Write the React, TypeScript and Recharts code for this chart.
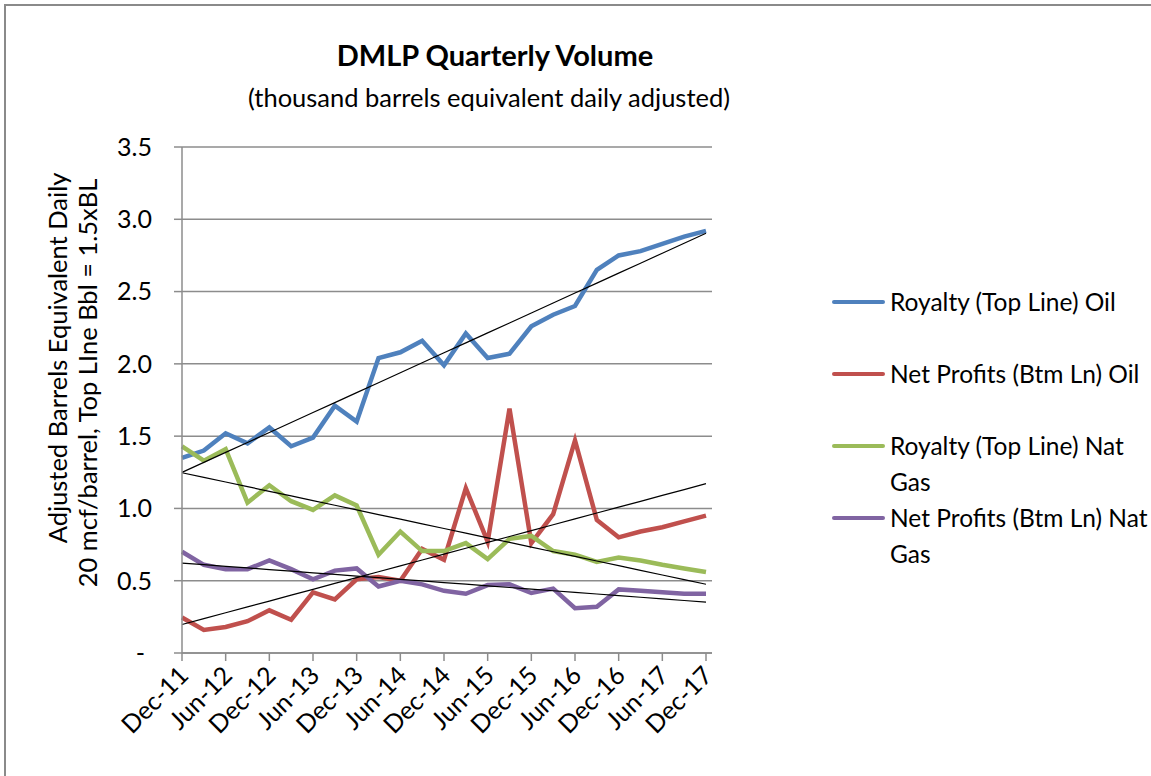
// DMLP Quarterly Volume - line chart with linear trendlines
import { LineChart, Line, XAxis, YAxis, CartesianGrid, Legend } from "recharts";

const QUARTERS = [
  "Dec-11", "Mar-12", "Jun-12", "Sep-12", "Dec-12", "Mar-13", "Jun-13", "Sep-13",
  "Dec-13", "Mar-14", "Jun-14", "Sep-14", "Dec-14", "Mar-15", "Jun-15", "Sep-15",
  "Dec-15", "Mar-16", "Jun-16", "Sep-16", "Dec-16", "Mar-17", "Jun-17", "Sep-17",
  "Dec-17",
];

const ROYALTY_OIL = [
  1.35, 1.4, 1.52, 1.45, 1.56, 1.43, 1.49, 1.71, 1.6, 2.04, 2.08, 2.16, 1.99,
  2.21, 2.04, 2.07, 2.26, 2.34, 2.4, 2.65, 2.75, 2.78, 2.83, 2.88, 2.92,
];
const NET_PROFITS_OIL = [
  0.245, 0.16, 0.18, 0.22, 0.295, 0.23, 0.42, 0.37, 0.51, 0.525, 0.5, 0.72,
  0.645, 1.14, 0.77, 1.69, 0.76, 0.96, 1.47, 0.92, 0.8, 0.84, 0.87, 0.91, 0.95,
];
const ROYALTY_GAS = [
  1.43, 1.33, 1.41, 1.04, 1.16, 1.05, 0.99, 1.09, 1.02, 0.68, 0.84, 0.705, 0.705,
  0.76, 0.65, 0.79, 0.81, 0.705, 0.68, 0.63, 0.66, 0.64, 0.61, 0.585, 0.56,
];
const NET_PROFITS_GAS = [
  0.7, 0.61, 0.58, 0.58, 0.64, 0.58, 0.51, 0.57, 0.585, 0.46, 0.5, 0.475, 0.43,
  0.41, 0.47, 0.475, 0.415, 0.445, 0.31, 0.32, 0.44, 0.43, 0.42, 0.41, 0.41,
];

const SERIES = [
  { key: "royaltyOil", name: "Royalty (Top Line) Oil", color: "#4F81BD", values: ROYALTY_OIL },
  { key: "netOil", name: "Net Profits (Btm Ln) Oil", color: "#C0504D", values: NET_PROFITS_OIL },
  { key: "royaltyGas", name: "Royalty (Top Line) Nat Gas", color: "#9BBB59", values: ROYALTY_GAS },
  { key: "netGas", name: "Net Profits (Btm Ln) Nat Gas", color: "#8064A2", values: NET_PROFITS_GAS },
];

const Y_TICKS = [0, 0.5, 1, 1.5, 2, 2.5, 3, 3.5];

const GRID = "#8c8c8c";

// least squares fit, same as an Excel linear trendline
const linearTrend = (vals: number[]) => {
  const n = vals.length;
  const mx = (n - 1) / 2;
  const my = vals.reduce((a, b) => a + b, 0) / n;
  let sxy = 0;
  let sxx = 0;
  vals.forEach((v, i) => {
    sxy += (i - mx) * (v - my);
    sxx += (i - mx) * (i - mx);
  });
  const slope = sxy / sxx;
  return vals.map((_, i) => my + slope * (i - mx));
};

const chartData = QUARTERS.map((q, i) => {
  const row: any = { quarter: q };
  SERIES.forEach((s) => {
    row[s.key] = s.values[i];
  });
  return row;
});
SERIES.forEach((s) => {
  const t = linearTrend(s.values);
  chartData.forEach((row: any, i: number) => {
    row[s.key + "Trend"] = t[i];
  });
});

const XTick = ({ x, y, payload }: any) => (
  <g transform={`translate(${x + 8},${y + 14})`}>
    <text transform="rotate(-45)" textAnchor="end" fontSize={25} fill="#000">
      {payload.value}
    </text>
  </g>
);

const YTick = ({ x, y, payload }: any) => (
  <text
    x={x}
    y={y}
    dx={payload.value === 0 ? -7 : 0}
    dy="0.355em"
    textAnchor="end"
    fontSize={25}
    fill="#000"
  >
    {payload.value === 0 ? "-" : payload.value.toFixed(1)}
  </text>
);

// legend in series order; long names wrap their last word onto a second line
const CustomLegend = ({ payload }: any) => {
  const items = (payload || [])
    .filter((p: any) => p.type !== "none")
    .slice()
    .sort(
      (a: any, b: any) =>
        SERIES.findIndex((s) => s.name === a.value) -
        SERIES.findIndex((s) => s.name === b.value)
    );
  return (
    <div>
      {items.map((entry: any, index: number) => {
        const name: string = entry.value;
        const words = name.split(" ");
        const lines =
          name.length > 24
            ? [words.slice(0, -1).join(" "), words[words.length - 1]]
            : [name];
        return (
          <div key={`legend-${index}`} style={{ position: "relative", height: 72 }}>
            <div
              style={{
                position: "absolute",
                left: 0,
                top: 16,
                width: 53,
                height: 4,
                borderRadius: 2,
                backgroundColor: entry.color,
              }}
            />
            <div
              style={{
                position: "absolute",
                left: 58,
                top: 0,
                fontSize: 24.5,
                lineHeight: "36px",
                color: "#000",
                whiteSpace: "nowrap",
              }}
            >
              {lines.map((l, k) => (
                <div key={k}>{l}</div>
              ))}
            </div>
          </div>
        );
      })}
    </div>
  );
};

export default function App() {
  return (
    <div
      style={{
        position: "absolute",
        left: 0,
        top: 0,
        width: 1151,
        height: 776,
        background: "#fff",
        overflow: "hidden",
        fontFamily: "Lato, 'Open Sans', sans-serif",
      }}
    >
      <div
        style={{
          position: "absolute",
          left: 4,
          top: 4,
          width: 1200,
          height: 800,
          borderTop: "2px solid #8a8a8a",
          borderLeft: "2px solid #8a8a8a",
        }}
      />
      <LineChart
        width={1151}
        height={776}
        data={chartData}
        margin={{ top: 147, right: 439, bottom: 23, left: 122 }}
      >
        <CartesianGrid vertical={false} stroke={GRID} strokeWidth={1.5} />
        <XAxis
          dataKey="quarter"
          interval={1}
          tickSize={8}
          height={100}
          padding={{ left: 0, right: 6 }}
          axisLine={{ stroke: GRID, strokeWidth: 1.5 }}
          tickLine={{ stroke: GRID, strokeWidth: 1.5 }}
          tick={<XTick />}
        />
        <YAxis
          domain={[0, 3.5]}
          ticks={Y_TICKS}
          width={60}
          tickSize={8}
          tickMargin={22}
          axisLine={{ stroke: GRID, strokeWidth: 1.5 }}
          tickLine={{ stroke: GRID, strokeWidth: 1.5 }}
          tick={<YTick />}
        />
        {SERIES.map((s) => (
          <Line
            key={s.key}
            type="linear"
            dataKey={s.key}
            name={s.name}
            stroke={s.color}
            strokeWidth={4.5}
            dot={false}
            isAnimationActive={false}
          />
        ))}
        {SERIES.map((s) => (
          <Line
            key={s.key + "Trend"}
            type="linear"
            dataKey={s.key + "Trend"}
            stroke="#000"
            strokeWidth={1.2}
            dot={false}
            legendType="none"
            isAnimationActive={false}
          />
        ))}
        <Legend
          layout="horizontal"
          align="center"
          verticalAlign="middle"
          content={<CustomLegend />}
          wrapperStyle={{ position: "absolute", left: 832, top: 283.7, width: 319, margin: 0 }}
        />
      </LineChart>
      <svg
        width={1151}
        height={776}
        style={{ position: "absolute", left: 0, top: 0, pointerEvents: "none" }}
      >
        <text x={495} y={66} textAnchor="middle" fontSize={29} fontWeight={700} fill="#000">
          DMLP Quarterly Volume
        </text>
        <text x={489} y={107} textAnchor="middle" fontSize={25.5} fill="#000">
          (thousand barrels equivalent daily adjusted)
        </text>
        <text
          transform="translate(67,358) rotate(-90)"
          textAnchor="middle"
          fontSize={25.5}
          fill="#000"
        >
          Adjusted Barrels Equivalent Daily
        </text>
        <text
          transform="translate(97,383) rotate(-90)"
          textAnchor="middle"
          fontSize={25.5}
          fill="#000"
        >
          20 mcf/barrel,  Top LIne Bbl = 1.5xBL
        </text>
      </svg>
    </div>
  );
}
